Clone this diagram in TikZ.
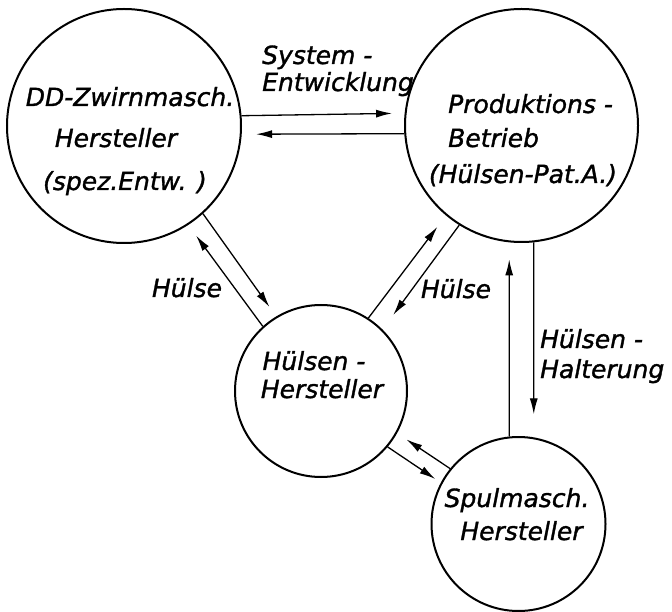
\documentclass[tikz,border=0pt]{standalone}
\usepackage{fontspec}
\setmainfont{DejaVu Sans}[ItalicFeatures={FakeBold=1.3}]
\usetikzlibrary{arrows.meta}
\begin{document}
\begin{tikzpicture}[x=1pt,y=-1pt,
  box/.style={circle,draw,line width=2pt,inner sep=0pt,minimum size=#1},
  txt/.style={inner sep=0pt,font=\fontsize{25}{30}\selectfont\itshape},
  link/.style={line width=1.3pt,-{Latex[length=16pt,width=8pt]}}]
\useasboundingbox (0,0) rectangle (672,612);
% circles
\node[box=234pt] (c1) at (124,126) {};
\node[box=233pt] (c2) at (521.5,125.5) {};
\node[box=172pt] (c3) at (321,391) {};
\node[box=174pt] (c4) at (518.5,524) {};
% circle texts
\node[txt,anchor=base] (t1a) at (130,106) {DD-Zwirnmasch.};
\node[txt,anchor=base] (t1b) at (116,147) {Hersteller};
\node[txt,anchor=base] (t1c) at (125,190) {(spez.Entw. )};
\node[txt,anchor=base west] (t2a) at (448,113) {Produktions -};
\node[txt,anchor=base west] (t2b) at (448,147) {Betrieb};
\node[txt,anchor=base] (t2c) at (523,183) {(Hülsen-Pat.A.)};
\node[txt,anchor=base] (t3a) at (314,370) {Hülsen -};
\node[txt,anchor=base] (t3b) at (322,398) {Hersteller};
\node[txt,anchor=base] (t4a) at (517,507) {Spulmasch.};
\node[txt,anchor=base] (t4b) at (521.5,540) {Hersteller};
% labels
\node[txt,anchor=base west] (l1a) at (262,64) {System -};
\node[txt,anchor=base west] (l1b) at (262,91) {Entwicklung};
\node[txt,anchor=base] (l2) at (187,297) {Hülse};
\node[txt,anchor=base] (l3) at (456,298) {Hülse};
\node[txt,anchor=base west] (l4a) at (540,348) {Hülsen -};
\node[txt,anchor=base west] (l4b) at (540,378) {Halterung};
% connectors
\draw[link,shorten >=12.6pt] (c1.5.9) -- (c2.174.3);
\draw[link,shorten >=14.3pt] (c2.184.7) -- (c1.-4.4);
\draw[link,shorten >=11.6pt] (c1.-48.8) -- (c3.121);
\draw[link,shorten >=13.2pt] (c3.132.2) -- (c1.-57.3);
\draw[link,shorten >=14.1pt] (c3.57.9) -- (c2.-130.75);
\draw[link,shorten >=18pt] (c2.-122) -- (c3.45.7);
\draw[link,shorten >=23pt] (c2.-84.3) -- (c4.80.4);
\draw[link,shorten >=17pt] (c4.96.2) -- (c2.-96.2);
\draw[link,shorten >=6.6pt] (c3.-40) -- (c4.152.4);
\draw[link,shorten >=11.3pt] (c4.141) -- (c3.-29.9);
\end{tikzpicture}
\end{document}
